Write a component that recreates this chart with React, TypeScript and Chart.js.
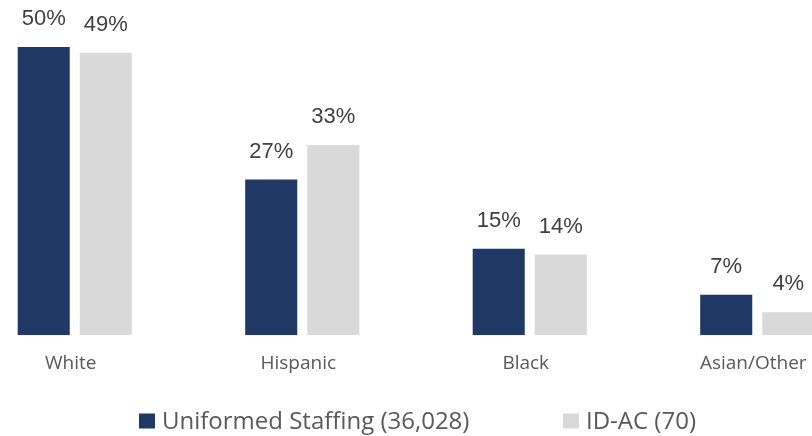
import React, { useEffect, useRef } from "react";
import { Chart, registerables } from "chart.js";

Chart.register(...registerables);

const categories = ["White", "Hispanic", "Black", "Asian/Other"];
const uniformedValues = [50, 27, 15, 7];
const idacValues = [49, 33, 14, 4];
const seriesLabels = ["Uniformed Staffing (36,028)", "ID-AC (70)"];
const seriesColors = ["#203864", "#D9D9D9"];

const CANVAS_SHIFT = 39;

const valueLabelPlugin = {
  id: "valueLabels",
  afterDatasetsDraw(chart: any) {
    const ctx = chart.ctx;
    ctx.save();
    ctx.font = '22px "Liberation Sans", Arial, sans-serif';
    ctx.fillStyle = "#404040";
    ctx.textAlign = "center";
    ctx.textBaseline = "alphabetic";
    chart.data.datasets.forEach((ds: any, i: number) => {
      const meta = chart.getDatasetMeta(i);
      meta.data.forEach((bar: any, j: number) => {
        ctx.fillText(ds.data[j] + "%", bar.x, bar.y - 22);
      });
    });
    ctx.restore();
  },
};

// legend entries: left edge of swatch (page px) for each series
const legendSwatchX = [139, 563];

const customLegendPlugin = {
  id: "customLegend",
  afterDraw(chart: any) {
    const ctx = chart.ctx;
    ctx.save();
    ctx.font = '24px "Open Sans", sans-serif';
    ctx.textAlign = "left";
    ctx.textBaseline = "alphabetic";
    chart.data.datasets.forEach((ds: any, i: number) => {
      const x = legendSwatchX[i] + CANVAS_SHIFT;
      ctx.fillStyle = ds.backgroundColor;
      ctx.fillRect(x, 413.5, 16, 15);
      ctx.fillStyle = "#595959";
      ctx.fillText(ds.label, x + 23, 429);
    });
    ctx.restore();
  },
};

export default function App() {
  const ref = useRef<HTMLCanvasElement | null>(null);

  useEffect(() => {
    if (!ref.current) return;
    const chart = new Chart(ref.current, {
      type: "bar",
      data: {
        labels: categories,
        datasets: [
          {
            label: seriesLabels[0],
            data: uniformedValues,
            backgroundColor: seriesColors[0],
            categoryPercentage: 0.5455,
            barPercentage: 0.839,
          },
          {
            label: seriesLabels[1],
            data: idacValues,
            backgroundColor: seriesColors[1],
            categoryPercentage: 0.5455,
            barPercentage: 0.839,
          },
        ],
      },
      options: {
        responsive: false,
        animation: false,
        devicePixelRatio: 1,
        layout: { padding: { top: 47, bottom: 44, left: 0, right: 0 } },
        scales: {
          x: {
            grid: { display: false, drawTicks: false },
            border: { display: false },
            ticks: {
              color: "#595959",
              font: { family: '"Open Sans", sans-serif', size: 19 },
              padding: 17,
              labelOffset: -4,
            },
          },
          y: {
            display: false,
            min: 0,
            max: 50,
          },
        },
        plugins: {
          legend: { display: false },
          tooltip: { enabled: false },
        },
      },
      plugins: [valueLabelPlugin, customLegendPlugin],
    });
    return () => chart.destroy();
  }, []);

  return (
    <div
      style={{
        position: "fixed",
        left: 0,
        top: 0,
        width: 812,
        height: 436,
        overflow: "hidden",
        background: "#ffffff",
      }}
    >
      <canvas
        ref={ref}
        width={910}
        height={436}
        style={{ position: "absolute", left: -CANVAS_SHIFT, top: 0, width: 910, height: 436 }}
      />
    </div>
  );
}
